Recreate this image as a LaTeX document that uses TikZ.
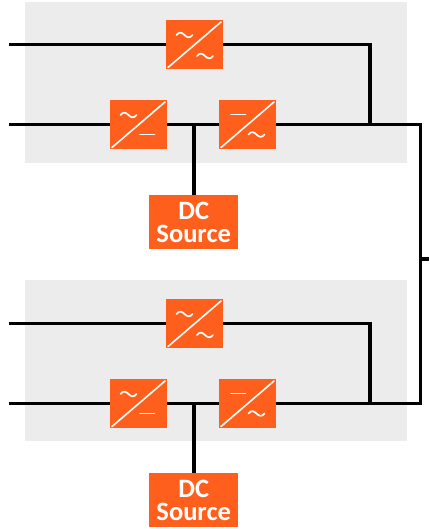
\documentclass[tikz,border=0pt]{standalone}
\usepackage{fontspec}
\setmainfont{Carlito}
\definecolor{conv}{RGB}{255,95,28}
\definecolor{panel}{RGB}{236,236,236}
\tikzset{
  panelbox/.style={fill=panel,draw=none,inner sep=0pt,minimum width=382bp,minimum height=161bp,anchor=north west},
  convbox/.style={fill=conv,draw=none,inner sep=0pt,minimum width=57bp,minimum height=49bp,anchor=north west},
  sourcebox/.style={fill=conv,draw=none,inner sep=0pt,minimum width=89bp,minimum height=54bp,anchor=north west,
    text=white,align=center,font=\fontsize{26.5bp}{22.5bp}\selectfont\bfseries},
  wire/.style={draw=black,line width=3.9bp,line cap=butt,line join=miter},
  slashline/.style={draw=white,line width=1.6bp,line cap=round},
  signline/.style={draw=white,line width=1.7bp,line cap=round}
}
% sign at offset, in px from the box's north west corner
\newcommand{\wavesign}[3]{\draw[signline] ([xshift=#2bp-8bp,yshift=-#3bp]#1.north west)
  .. controls +(2.8bp,3.6bp) and +(-2.6bp,2.6bp) .. ++(8bp,0bp)
  .. controls +(2.6bp,-2.6bp) and +(-2.8bp,-3.6bp) .. ++(8bp,0bp);}
\newcommand{\dashsign}[3]{\draw[signline] ([xshift=#2bp-7bp,yshift=-#3bp]#1.north west) -- +(14.5bp,0bp);}
\newcommand{\slashsign}[1]{\draw[slashline] ([xshift=2bp,yshift=-47.5bp]#1.north west) -- ([xshift=55bp,yshift=-2bp]#1.north west);}
\begin{document}
\begin{tikzpicture}[x=1bp,y=-1bp]
\useasboundingbox (0,0) rectangle (429,529);
\node[panelbox] (p1) at (25,2) {};
\node[panelbox] (p2) at (25,280) {};

% free ends and junctions
\coordinate (a1) at (9,44.5);
\coordinate (a2) at (370,44.5);
\coordinate (a3) at (370,124.5);
\coordinate (b1) at (9,124.5);
\coordinate (b2) at (194,124.5);
\coordinate (c1) at (9,323.5);
\coordinate (c2) at (370,323.5);
\coordinate (c3) at (370,403.5);
\coordinate (d1) at (9,403.5);
\coordinate (d2) at (194,403.5);
\coordinate (e1) at (420.5,124.5);
\coordinate (e2) at (420.5,403.5);
\coordinate (e3) at (420.5,259);
\coordinate (out) at (429,259);

% connectors
\draw[wire] (a1) -- (a2) -- (a3);
\draw[wire] (b1) -- (e1) -- (e2) -- (d1);
\draw[wire] (c1) -- (c2) -- (c3);
\draw[wire] (e3) -- (out);

\node[sourcebox] (s1) at (149,195) {DC\\Source};
\node[sourcebox] (s2) at (149,473) {DC\\Source};
\draw[wire] (b2) -- (s1.north -| b2);
\draw[wire] (d2) -- (s2.north -| d2);

\node[convbox] (u1) at (166,20) {};
\node[convbox] (u2) at (110,100) {};
\node[convbox] (u3) at (219,100) {};
\node[convbox] (v1) at (166,299) {};
\node[convbox] (v2) at (110,379) {};
\node[convbox] (v3) at (219,379) {};

\foreach \n in {u1,u2,u3,v1,v2,v3} {\slashsign{\n}}
\foreach \n in {u1,v1} {\wavesign{\n}{18.5}{15}\wavesign{\n}{39}{36}}
\foreach \n in {u2,v2} {\wavesign{\n}{18.5}{15}\dashsign{\n}{37}{34.5}}
\foreach \n in {u3,v3} {\dashsign{\n}{19}{14.5}\wavesign{\n}{37.5}{34.5}}
\end{tikzpicture}
\end{document}
